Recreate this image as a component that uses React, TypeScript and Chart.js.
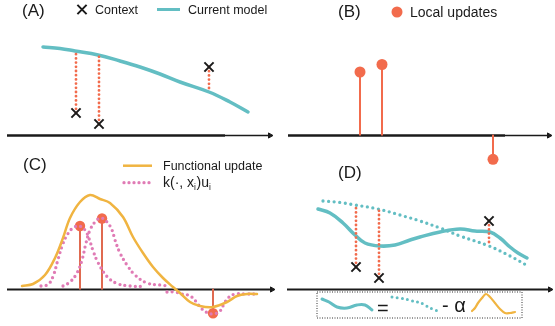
import React, { useEffect, useRef } from 'react';
import { Chart, registerables } from 'chart.js';

Chart.register(...registerables);

const TEAL = '#63bec3';
const YELLOW = '#f0b441';
const PINK = '#e07bb5';
const RED = '#f26b4c';
const STEM_C = '#e06a50';
const INK = '#1a1a1a';
const FONT = "'Liberation Sans', Arial, Helvetica, sans-serif";

// ---- Data (x along the horizontal axis, y above/below the axis) ----
// Context points and the current model (panels A and D)
const contextX = [6.8, 9.1, 20.1];
const contextY = [2.25, 1.15, 6.85];
const contextModelY = [8.43, 8.03, 4.35];
const modelX = [3.5, 5.2, 6.7, 9.0, 11.2, 13.2, 15.2, 17.2, 20.1, 22.2, 24.0];
const modelY = [8.85, 8.7, 8.45, 8.05, 7.45, 6.85, 6.15, 5.35, 4.35, 3.35, 2.35];

// Local updates (panels B and C)
const updateX = [7.2, 9.4, 20.5];
const updateY = [6.35, 7.1, -2.38];

// Functional update (panel C)
const funcX = [1.4, 2.5, 3.7, 4.7, 5.5, 6.2, 7.2, 8.2, 9.2, 10.2, 11.5, 12.5, 13.5, 14.5, 15.5, 16.5, 17.2, 18.2, 19.2, 20.5, 21.9, 22.9, 23.9, 24.9];
const funcY = [0.35, 0.55, 1.45, 3.15, 5.15, 7.15, 8.75, 9.45, 9.05, 8.65, 7.25, 5.25, 3.65, 2.25, 1.15, 0.25, -0.35, -1.25, -1.65, -1.75, -1.25, -0.65, -0.45, -0.45];

// Kernel terms k(., x_i) u_i (panel C)
const k1X = [3.3, 4.0, 4.5, 5.0, 5.5, 6.0, 6.5, 7.1, 7.7, 8.1, 8.5, 9.0, 9.9, 10.9, 12.2, 13.4];
const k1Y = [0.35, 0.5, 1.3, 3.0, 4.6, 5.6, 6.15, 6.35, 5.95, 5.1, 3.9, 2.7, 1.3, 0.6, 0.35, 0.3];
const k2X = [5.5, 6.2, 6.9, 7.4, 7.8, 8.2, 8.7, 9.3, 9.9, 10.4, 10.7, 11.2, 11.9, 12.7, 13.9, 15.2, 16.2];
const k2Y = [0.35, 0.75, 1.65, 2.95, 4.65, 5.95, 6.75, 7.15, 6.75, 5.95, 4.95, 3.65, 2.45, 1.45, 0.65, 0.45, 0.35];
const k3X = [15.9, 16.7, 17.4, 18.0, 18.5, 18.9, 19.3, 19.8, 20.5, 21.2, 21.6, 22.0, 22.7, 23.7, 24.9];
const k3Y = [-0.25, -0.25, -0.45, -0.55, -0.85, -1.35, -1.85, -2.25, -2.45, -2.15, -1.45, -0.85, -0.45, -0.45, -0.45];

// New model (panel D)
const newModelX = [3.0, 4.2, 5.5, 6.7, 7.7, 9.2, 10.7, 12.2, 13.2, 15.2, 17.2, 18.7, 20.2, 21.2, 22.2, 23.0, 23.9];
const newModelY = [8.05, 7.65, 6.65, 5.45, 4.65, 4.35, 4.45, 4.95, 5.25, 5.75, 6.05, 5.85, 5.75, 5.15, 4.25, 3.65, 3.15];

// Inset equation (panel D)
const insetBoxX = [2.9, 23.4, 23.4, 2.9, 2.9];
const insetBoxY = [-0.25, -0.25, -2.85, -2.85, -0.25];
const insetNewX = [3.4, 4.1, 4.9, 5.9, 6.9, 7.7, 8.4];
const insetNewY = [-0.95, -1.25, -1.75, -1.85, -1.55, -1.55, -2.05];
const insetOldX = [10.4, 11.5, 12.5, 13.3, 14.2, 15.2];
const insetOldY = [-0.75, -0.9, -1.15, -1.35, -1.85, -2.25];
const insetUpdX = [18.4, 18.7, 19.0, 19.4, 19.8, 20.2, 20.7, 21.2, 21.7, 22.2, 22.7];
const insetUpdY = [-2.15, -1.85, -1.35, -0.85, -0.45, -0.75, -1.35, -1.95, -2.35, -2.35, -2.25];

// Labels
const titles = ['(A)', '(B)', '(C)', '(D)'];
const legendA = ['Context', 'Current model'];
const legendB = ['Local updates'];
const legendC = ['Functional update'];
const kernelLabel = [
  { t: 'k(·, x' },
  { t: 'i', sub: true },
  { t: ')u' },
  { t: 'i', sub: true },
];
const eqLabels = ['=', '- α'];

// ---- helpers ----
const xy = (xs: number[], ys: number[]) => xs.map((x, i) => ({ x, y: ys[i] }));

function lineDs(xs: number[], ys: number[], color: string, width: number, extra: any = {}) {
  return {
    type: 'line',
    data: xy(xs, ys),
    borderColor: color,
    backgroundColor: color,
    borderWidth: width,
    pointRadius: 0,
    pointHoverRadius: 0,
    fill: false,
    tension: 0.4,
    borderCapStyle: 'round',
    borderJoinStyle: 'round',
    ...extra,
  };
}
function dottedDs(xs: number[], ys: number[], color: string, width: number, gap: number, extra: any = {}) {
  return lineDs(xs, ys, color, width, { borderDash: [0, gap], ...extra });
}
function markerDs(xs: number[], ys: number[], style: string, radius: number, color: string, bw: number) {
  return {
    type: 'line',
    data: xy(xs, ys),
    showLine: false,
    pointStyle: style,
    pointRadius: radius,
    pointHoverRadius: radius,
    pointBackgroundColor: color,
    pointBorderColor: color,
    pointBorderWidth: bw,
  };
}
function axisDs(start: number, thickEnd: number, end: number, split: boolean) {
  const out: any[] = [];
  if (split) {
    out.push(lineDs([thickEnd, end], [0, 0], INK, 1.3, {
      tension: 0, borderCapStyle: 'butt',
      pointRadius: [0, 3], pointStyle: 'triangle', rotation: 90,
      pointBackgroundColor: INK, pointBorderColor: INK, pointBorderWidth: 1,
    }));
    out.push(lineDs([start, thickEnd], [0, 0], INK, 2.4, { tension: 0, borderCapStyle: 'butt' }));
  } else {
    out.push(lineDs([start, end], [0, 0], INK, 2.2, {
      tension: 0, borderCapStyle: 'butt',
      pointRadius: [0, 3], pointStyle: 'triangle', rotation: 90,
      pointBackgroundColor: INK, pointBorderColor: INK, pointBorderWidth: 1,
    }));
  }
  return out;
}
const residuals = () =>
  contextX.map((x, i) => dottedDs([x, x], [contextY[i], contextModelY[i]], RED, 2.8, 4.2, { tension: 0 }));
const stems = (color: string) =>
  updateX.map((x, i) => lineDs([x, x], [0, updateY[i]], color, 2, { tension: 0, borderCapStyle: 'butt' }));

// ---- overlay plugin for titles / legends ----
function makeOverlay(items: any[]) {
  return {
    id: 'panelOverlay',
    afterDatasetsDraw(chart: any) {
      const ctx = chart.ctx as CanvasRenderingContext2D;
      ctx.save();
      for (const it of items) {
        ctx.setLineDash([]);
        if (it.kind === 'text') {
          ctx.font = `${it.size}px ${FONT}`;
          ctx.fillStyle = INK;
          ctx.textBaseline = 'alphabetic';
          ctx.textAlign = 'left';
          ctx.fillText(it.text, it.x, it.y);
        } else if (it.kind === 'rich') {
          let x = it.x;
          ctx.fillStyle = INK;
          ctx.textBaseline = 'alphabetic';
          ctx.textAlign = 'left';
          for (const p of it.parts) {
            const size = p.sub ? it.size * 0.6 : it.size;
            ctx.font = `${size}px ${FONT}`;
            ctx.fillText(p.t, x, p.sub ? it.y + 3 : it.y);
            x += ctx.measureText(p.t).width + (p.sub ? 0.5 : 0);
          }
        } else if (it.kind === 'cross') {
          ctx.strokeStyle = INK;
          ctx.lineWidth = 2;
          ctx.beginPath();
          ctx.moveTo(it.x - it.r, it.y - it.r);
          ctx.lineTo(it.x + it.r, it.y + it.r);
          ctx.moveTo(it.x + it.r, it.y - it.r);
          ctx.lineTo(it.x - it.r, it.y + it.r);
          ctx.stroke();
        } else if (it.kind === 'line') {
          ctx.strokeStyle = it.color;
          ctx.lineWidth = it.width;
          ctx.lineCap = it.dash ? 'round' : 'butt';
          if (it.dash) ctx.setLineDash(it.dash);
          ctx.beginPath();
          ctx.moveTo(it.x1, it.y);
          ctx.lineTo(it.x2, it.y);
          ctx.stroke();
        } else if (it.kind === 'dot') {
          ctx.fillStyle = it.color;
          ctx.beginPath();
          ctx.arc(it.x, it.y, it.r, 0, Math.PI * 2);
          ctx.fill();
        }
      }
      ctx.restore();
    },
  };
}

// ---- panel configurations ----
const PANELS = [
  {
    id: 'A', left: 0, top: 0, w: 280, h: 175,
    xMin: -0.8, xMax: 27.2, yMin: -3.95, yMax: 13.55,
    datasets: () => [
      markerDs(contextX, contextY, 'crossRot', 6.5, INK, 2),
      ...residuals(),
      lineDs(modelX, modelY, TEAL, 3.5),
      ...axisDs(-0.1, 21.7, 26.2, true),
    ],
    items: [
      { kind: 'text', text: titles[0], x: 22, y: 15.5, size: 17 },
      { kind: 'cross', x: 82, y: 9.5, r: 4.6 },
      { kind: 'text', text: legendA[0], x: 95, y: 14, size: 12.5 },
      { kind: 'line', x1: 157, x2: 180, y: 9.5, color: TEAL, width: 3 },
      { kind: 'text', text: legendA[1], x: 188, y: 14, size: 12.5 },
    ],
  },
  {
    id: 'B', left: 280, top: 0, w: 275, h: 175,
    xMin: -0.8, xMax: 26.7, yMin: -3.95, yMax: 13.55,
    datasets: () => [
      markerDs(updateX, updateY, 'circle', 5.5, RED, 0),
      ...stems(RED),
      ...axisDs(0, 21.7, 26.1, true),
    ],
    items: [
      { kind: 'text', text: titles[1], x: 58, y: 17, size: 17 },
      { kind: 'dot', x: 117, y: 12, r: 5.5, color: RED },
      { kind: 'text', text: legendB[0], x: 130, y: 16.7, size: 14 },
    ],
  },
  {
    id: 'C', left: 0, top: 150, w: 280, h: 176,
    xMin: -0.8, xMax: 27.2, yMin: -3.65, yMax: 13.95,
    datasets: () => [
      lineDs(funcX, funcY, YELLOW, 2.5, { tension: 0.35 }),
      dottedDs(k1X, k1Y, PINK, 3.3, 5.2),
      dottedDs(k2X, k2Y, PINK, 3.3, 5.2),
      dottedDs(k3X, k3Y, PINK, 3.3, 5.2),
      markerDs(updateX, updateY, 'circle', 5.2, RED, 0),
      ...stems(STEM_C),
      ...axisDs(-0.1, 26.4, 26.4, false),
    ],
    items: [
      { kind: 'text', text: titles[2], x: 23, y: 20, size: 17 },
      { kind: 'line', x1: 123, x2: 152, y: 15.7, color: YELLOW, width: 2.5 },
      { kind: 'text', text: legendC[0], x: 163, y: 20, size: 12.5 },
      { kind: 'line', x1: 124, x2: 152, y: 32.7, color: PINK, width: 3.3, dash: [0, 5] },
      { kind: 'rich', parts: kernelLabel, x: 163, y: 37, size: 14 },
    ],
  },
  {
    id: 'D', left: 280, top: 150, w: 275, h: 176,
    xMin: -0.8, xMax: 26.7, yMin: -3.65, yMax: 13.95,
    datasets: () => [
      markerDs(contextX, contextY, 'crossRot', 6.5, INK, 2),
      ...residuals(),
      lineDs(newModelX, newModelY, TEAL, 3.5),
      dottedDs(modelX, modelY, TEAL, 3.3, 5.6),
      ...axisDs(-0.1, 26.2, 26.2, false),
      lineDs(insetBoxX, insetBoxY, '#333', 1, { tension: 0, borderDash: [1, 1.5], borderCapStyle: 'butt', borderJoinStyle: 'miter' }),
      lineDs(insetNewX, insetNewY, TEAL, 3),
      dottedDs(insetOldX, insetOldY, TEAL, 3, 5.2, { tension: 0.2 }),
      lineDs(insetUpdX, insetUpdY, YELLOW, 2.2, { tension: 0.35 }),
    ],
    items: [
      { kind: 'text', text: titles[3], x: 58, y: 28, size: 17 },
      { kind: 'text', text: eqLabels[0], x: 97, y: 165, size: 20 },
      { kind: 'text', text: eqLabels[1], x: 162, y: 161.7, size: 20 },
    ],
  },
];

function Panel({ cfg }: { cfg: any }) {
  const ref = useRef<HTMLCanvasElement>(null);
  useEffect(() => {
    const canvas = ref.current;
    if (!canvas) return;
    const chart = new Chart(canvas, {
      type: 'line',
      data: { datasets: cfg.datasets() as any },
      options: {
        animation: false,
        responsive: false,
        maintainAspectRatio: false,
        devicePixelRatio: 1,
        events: [],
        layout: { padding: 0, autoPadding: false },
        plugins: { legend: { display: false }, tooltip: { enabled: false }, title: { display: false } },
        scales: {
          x: { type: 'linear', min: cfg.xMin, max: cfg.xMax, display: false },
          y: { type: 'linear', min: cfg.yMin, max: cfg.yMax, display: false },
        },
      } as any,
      plugins: [makeOverlay(cfg.items) as any],
    });
    return () => chart.destroy();
  }, [cfg]);
  return (
    <canvas
      ref={ref}
      width={cfg.w}
      height={cfg.h}
      style={{ position: 'absolute', left: cfg.left, top: cfg.top, width: cfg.w, height: cfg.h }}
    />
  );
}

export default function App() {
  return (
    <div style={{ position: 'fixed', left: 0, top: 0, width: 555, height: 326, background: '#ffffff', overflow: 'hidden' }}>
      {PANELS.map((p) => (
        <Panel key={p.id} cfg={p} />
      ))}
    </div>
  );
}
